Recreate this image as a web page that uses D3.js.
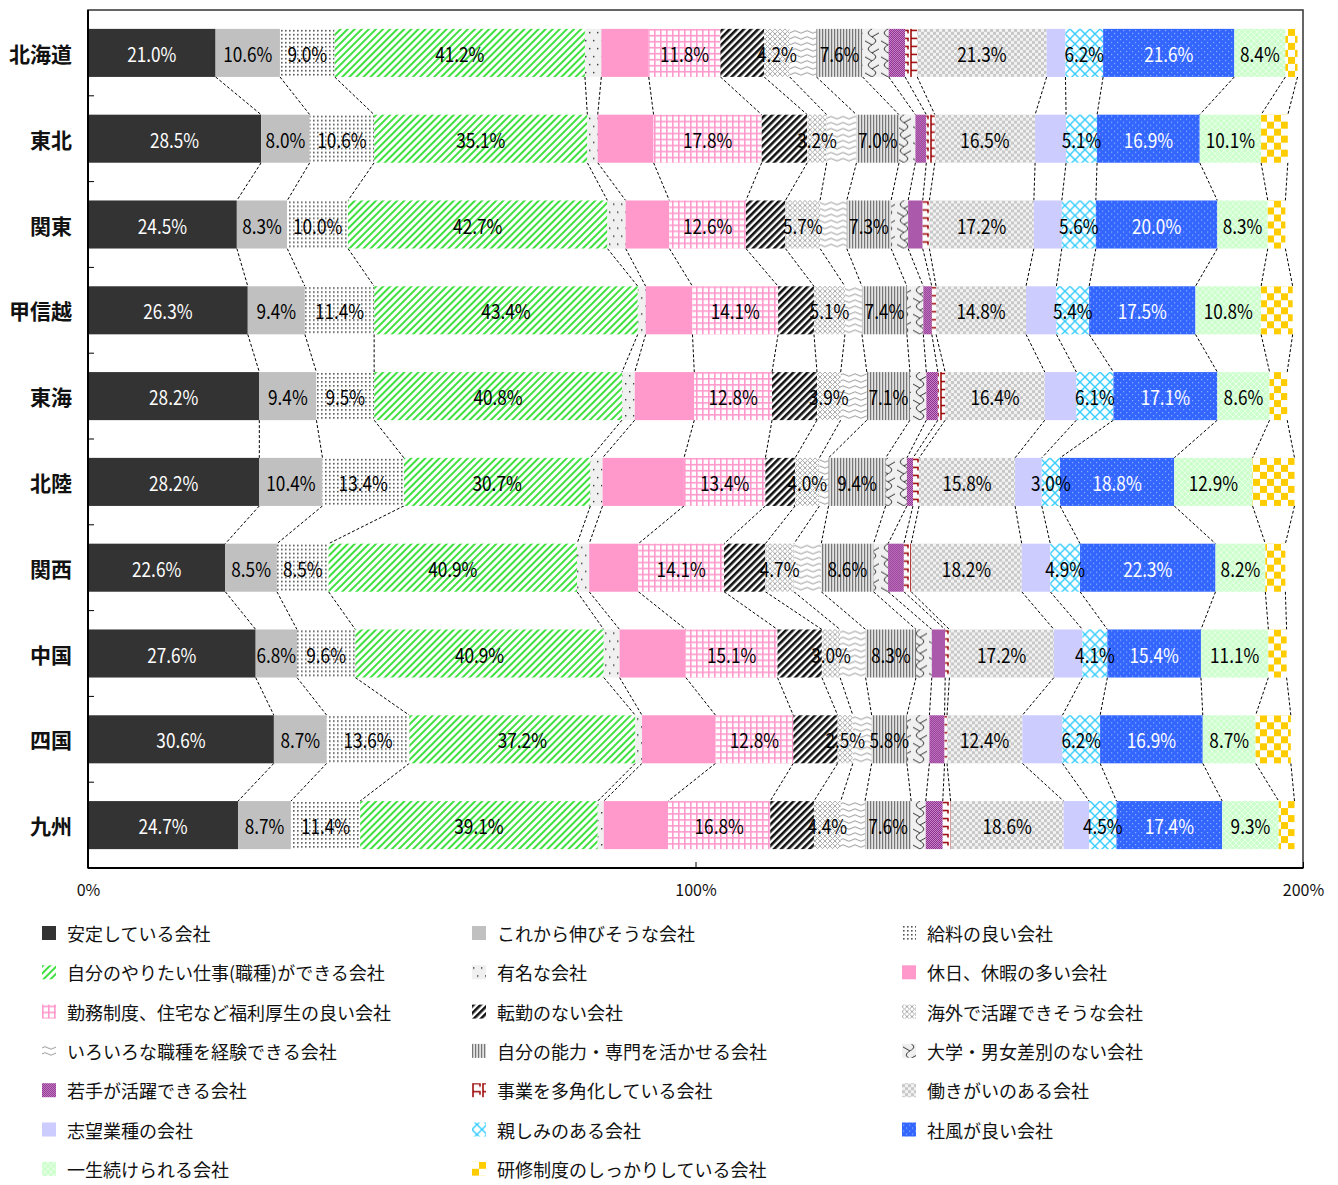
<!DOCTYPE html>
<html>
<head>
<meta charset="utf-8">
<script src="https://cdn.jsdelivr.net/npm/d3@7"></script>
<style>
  body { margin: 0; background: #fff; }
  text { font-family: "Noto Sans CJK JP", "Noto Sans", sans-serif; }
</style>
</head>
<body>
<svg id="chart" width="1338" height="1185"></svg>
<script>
// Regions (top to bottom)
const regions = ["北海道", "東北", "関東", "甲信越", "東海", "北陸", "関西", "中国", "四国", "九州"];

// Reasons for choosing a company, in stacking order
const seriesNames = [
  "安定している会社", "これから伸びそうな会社", "給料の良い会社",
  "自分のやりたい仕事(職種)ができる会社", "有名な会社", "休日、休暇の多い会社",
  "勤務制度、住宅など福利厚生の良い会社", "転勤のない会社", "海外で活躍できそうな会社",
  "いろいろな職種を経験できる会社", "自分の能力・専門を活かせる会社", "大学・男女差別のない会社",
  "若手が活躍できる会社", "事業を多角化している会社", "働きがいのある会社",
  "志望業種の会社", "親しみのある会社", "社風が良い会社",
  "一生続けられる会社", "研修制度のしっかりしている会社"
];

// Percentages per region, one array per reason
const antei     = [21.0, 28.5, 24.5, 26.3, 28.2, 28.2, 22.6, 27.6, 30.6, 24.7];
const nobisou   = [10.6,  8.0,  8.3,  9.4,  9.4, 10.4,  8.5,  6.8,  8.7,  8.7];
const kyuryo    = [ 9.0, 10.6, 10.0, 11.4,  9.5, 13.4,  8.5,  9.6, 13.6, 11.4];
const yaritai   = [41.2, 35.1, 42.7, 43.4, 40.8, 30.7, 40.9, 40.9, 37.2, 39.1];
const yumei     = [ 2.7,  1.7,  3.0,  1.3,  2.1,  2.0,  2.0,  2.6,  1.1,  1.0];
const kyujitsu  = [ 7.8,  9.2,  7.2,  7.7,  9.8, 13.4,  8.1, 10.9, 12.1, 10.6];
const fukuri    = [11.8, 17.8, 12.6, 14.1, 12.8, 13.4, 14.1, 15.1, 12.8, 16.8];
const tenkin    = [ 7.2,  7.5,  6.5,  5.9,  7.4,  4.9,  6.8,  7.3,  7.3,  7.2];
const kaigai    = [ 4.2,  3.2,  5.7,  5.1,  3.9,  4.0,  4.7,  3.0,  2.5,  4.4];
const iroiro    = [ 4.4,  4.9,  4.4,  2.8,  4.3,  1.5,  4.5,  4.2,  3.1,  4.0];
const noryoku   = [ 7.6,  7.0,  7.3,  7.4,  7.1,  9.4,  8.6,  8.3,  5.8,  7.6];
const sabetsu   = [ 4.3,  2.7,  2.8,  2.7,  2.7,  3.5,  2.4,  2.6,  3.7,  2.4];
const wakate    = [ 2.7,  1.8,  2.4,  1.4,  1.9,  1.0,  2.6,  2.2,  2.5,  2.8];
const takakuka  = [ 2.0,  1.4,  1.1,  0.7,  1.2,  1.0,  1.2,  0.7,  0.4,  1.3];
const hatarakigai = [21.3, 16.5, 17.2, 14.8, 16.4, 15.8, 18.2, 17.2, 12.4, 18.6];
const shibo     = [ 3.1,  5.1,  4.6,  5.0,  5.2,  4.4,  4.7,  4.7,  6.6,  4.2];
const shitashimi = [ 6.2,  5.1,  5.6,  5.4,  6.1,  3.0,  4.9,  4.1,  6.2,  4.5];
const shafu     = [21.6, 16.9, 20.0, 17.5, 17.1, 18.8, 22.3, 15.4, 16.9, 17.4];
const issho     = [ 8.4, 10.1,  8.3, 10.8,  8.6, 12.9,  8.2, 11.1,  8.7,  9.3];
const kenshu    = [ 2.0,  4.4,  2.9,  5.2,  2.9,  6.9,  3.3,  3.0,  5.8,  2.6];

const seriesValues = [antei, nobisou, kyuryo, yaritai, yumei, kyujitsu, fukuri, tenkin,
  kaigai, iroiro, noryoku, sabetsu, wakate, takakuka, hatarakigai, shibo, shitashimi,
  shafu, issho, kenshu];

// Reasons whose segments carry a value label
const labeledSeries = [0, 1, 2, 3, 6, 8, 10, 14, 16, 17, 18];
const whiteLabelSeries = [0, 17];

const xTickValues = [0, 100, 200];
const xTickLabels = ["0%", "100%", "200%"];

// ---------------------------------------------------------------
const svg = d3.select("#chart");
const defs = svg.append("defs");

function pattern(id, w, h, build, transform) {
  const p = defs.append("pattern").attr("id", id)
    .attr("patternUnits", "userSpaceOnUse").attr("width", w).attr("height", h);
  if (transform) p.attr("patternTransform", transform);
  build(p);
  return `url(#${id})`;
}
const rect = (p, x, y, w, h, c) => p.append("rect").attr("x", x).attr("y", y).attr("width", w).attr("height", h).attr("fill", c);
const path = (p, d, c, sw) => p.append("path").attr("d", d).attr("fill", "none").attr("stroke", c).attr("stroke-width", sw);

const fills = [
  "#333333",
  "#c0c0c0",
  pattern("pKyuryo", 4, 4, p => { rect(p, 0, 0, 4, 4, "#fff"); rect(p, 1, 1, 1.6, 1.6, "#555"); }),
  pattern("pYaritai", 5, 5, p => { rect(p, 0, 0, 5, 5, "#fff"); rect(p, 0, 0, 2, 5, "#3fe03f"); }, "rotate(45)"),
  pattern("pYumei", 8, 16, p => { rect(p, 0, 0, 8, 16, "#f0f0f0"); rect(p, 5, 3, 1.4, 1.4, "#333"); rect(p, 1, 11, 1.4, 1.4, "#333"); }),
  "#ff99cc",
  pattern("pFukuri", 6, 6, p => { rect(p, 0, 0, 6, 6, "#fff"); rect(p, 0, 0, 1.6, 6, "#ff99cc"); rect(p, 0, 0, 6, 1.6, "#ff99cc"); }),
  pattern("pTenkin", 5, 5, p => { rect(p, 0, 0, 5, 5, "#fff"); rect(p, 0, 0, 2.6, 5, "#111"); }, "rotate(45)"),
  pattern("pKaigai", 5, 5, p => { rect(p, 0, 0, 5, 5, "#fff"); path(p, "M0,0L5,5M5,0L0,5", "#aaa", 1); }),
  pattern("pIroiro", 12, 6, p => { rect(p, 0, 0, 12, 6, "#fff"); path(p, "M0,3 Q3,0.5 6,3 T12,3", "#999", 1); }),
  pattern("pNoryoku", 3, 3, p => { rect(p, 0, 0, 3, 3, "#e2e2e2"); rect(p, 0, 0, 1.2, 3, "#777"); }),
  pattern("pSabetsu", 16, 16, p => {
    rect(p, 0, 0, 16, 16, "#f0f0f0");
    path(p, "M8,0 C3,3 3,5 8,8 C13,11 13,13 8,16 M8,8 L15,4 M8,16 L1,12", "#333", 1);
  }),
  pattern("pWakate", 2, 2, p => { rect(p, 0, 0, 2, 2, "#cc88cc"); rect(p, 0, 0, 1, 1, "#8a2b8a"); rect(p, 1, 1, 1, 1, "#8a2b8a"); }),
  pattern("pTakakuka", 10, 8, p => { rect(p, 0, 0, 10, 8, "#fff"); path(p, "M1,0V8M1,1.5H8V4.5", "#990000", 1.5); }),
  pattern("pHatarakigai", 6, 6, p => { rect(p, 0, 0, 6, 6, "#f2f2f2"); rect(p, 0, 0, 3, 3, "#c8c8c8"); rect(p, 3, 3, 3, 3, "#c8c8c8"); }),
  "#ccccff",
  pattern("pShitashimi", 10, 10, p => { rect(p, 0, 0, 10, 10, "#fff"); path(p, "M0,0L10,10M10,0L0,10", "#33ccff", 1.4); }),
  pattern("pShafu", 6, 6, p => { rect(p, 0, 0, 6, 6, "#3366ff"); rect(p, 1, 1, 1.2, 1.2, "#8fb0ff"); rect(p, 4, 4, 1.2, 1.2, "#8fb0ff"); }),
  pattern("pIssho", 6, 6, p => { rect(p, 0, 0, 6, 6, "#ccffcc"); path(p, "M0,0L6,6M6,0L0,6", "#e8ffe8", 1); }),
  pattern("pKenshu", 14, 14, p => { rect(p, 0, 0, 14, 14, "#ffcc00"); rect(p, 7, 0, 7, 7, "#fff"); rect(p, 0, 7, 7, 7, "#fff"); })
];

// ---------------------------------------------------------------
const plot = { left: 88, right: 1303, top: 10, bottom: 868 };

const x = d3.scaleLinear().domain([0, 200]).range([plot.left, plot.right]);
const y = d3.scaleBand().domain(regions).range([plot.top, plot.bottom])
  .paddingInner(0.44).paddingOuter(0.22);
const bw = y.bandwidth();

// cumulative stack per region
const stacks = regions.map((r, i) => {
  let acc = 0;
  return seriesValues.map((vals, s) => {
    const v = vals[i];
    const seg = { s, v, x0: acc, x1: acc + v };
    acc += v;
    return seg;
  });
});

// frame
svg.append("rect").attr("x", plot.left).attr("y", plot.top)
  .attr("width", plot.right - plot.left).attr("height", plot.bottom - plot.top)
  .attr("fill", "none").attr("stroke", "#333").attr("stroke-width", 1.5);

// dashed connectors between consecutive bars
const conn = svg.append("g").attr("stroke", "#000").attr("stroke-width", 1)
  .attr("stroke-dasharray", "3,2");
for (let i = 0; i < regions.length - 1; i++) {
  stacks[i].forEach((seg, k) => {
    conn.append("line")
      .attr("x1", x(seg.x1)).attr("y1", y(regions[i]) + bw)
      .attr("x2", x(stacks[i + 1][k].x1)).attr("y2", y(regions[i + 1]));
  });
}

// bars
const rows = svg.append("g").selectAll("g").data(stacks).join("g")
  .attr("transform", (d, i) => `translate(0,${y(regions[i])})`);
rows.selectAll("rect").data(d => d).join("rect")
  .attr("x", d => x(d.x0)).attr("width", d => x(d.x1) - x(d.x0))
  .attr("y", 0).attr("height", bw)
  .attr("fill", d => fills[d.s]);

// value labels (condensed figures)
rows.selectAll("g.lbl").data(d => d.filter(seg => labeledSeries.includes(seg.s)))
  .join("g").attr("class", "lbl")
  .attr("transform", d => `translate(${x((d.x0 + d.x1) / 2)},${bw / 2}) scale(0.86,1)`)
  .append("text")
  .attr("text-anchor", "middle").attr("dominant-baseline", "central")
  .attr("font-size", 20)
  .attr("fill", d => whiteLabelSeries.includes(d.s) ? "#fff" : "#000")
  .text(d => d.v.toFixed(1) + "%");

// y axis: ticks at category boundaries, pointing inward
const yTicks = svg.append("g");
for (let i = 1; i < regions.length; i++) {
  const yy = plot.top + i * y.step();
  yTicks.append("line").attr("x1", plot.left).attr("x2", plot.left + 6)
    .attr("y1", yy).attr("y2", yy).attr("stroke", "#000").attr("stroke-width", 1);
}
svg.append("g").selectAll("text").data(regions).join("text")
  .attr("x", 72).attr("y", d => y(d) + bw / 2)
  .attr("text-anchor", "end").attr("dominant-baseline", "central")
  .attr("font-size", 21).attr("font-weight", "bold").attr("fill", "#111")
  .text(d => d);

// x axis ticks and labels
const xAxis = svg.append("g").attr("transform", `translate(0,${plot.bottom})`)
  .call(d3.axisBottom(x).tickValues(xTickValues).tickSizeInner(-6).tickSizeOuter(0)
    .tickPadding(17).tickFormat((d, i) => xTickLabels[i]));
xAxis.select(".domain").remove();
xAxis.selectAll("text").attr("font-size", 16).attr("fill", "#111")
  .style("font-family", '"Noto Sans CJK JP", sans-serif');

// heavier left and bottom axis lines
svg.append("line").attr("x1", plot.left).attr("x2", plot.left)
  .attr("y1", plot.top).attr("y2", plot.bottom).attr("stroke", "#000").attr("stroke-width", 2);
svg.append("line").attr("x1", plot.left).attr("x2", plot.right)
  .attr("y1", plot.bottom).attr("y2", plot.bottom).attr("stroke", "#000").attr("stroke-width", 2);

// legend: 3 columns, row-major
const legendCols = [42, 472, 902];
const legend = svg.append("g").selectAll("g").data(seriesNames).join("g")
  .attr("transform", (d, i) => `translate(${legendCols[i % 3]},${933 + Math.floor(i / 3) * 39.3})`);
legend.append("rect").attr("x", 0).attr("y", -7).attr("width", 14).attr("height", 14)
  .attr("fill", (d, i) => fills[i]);
legend.append("text").attr("x", 25).attr("y", 0).attr("dominant-baseline", "central")
  .attr("font-size", 18).attr("fill", "#111").text(d => d);
</script>
</body>
</html>
